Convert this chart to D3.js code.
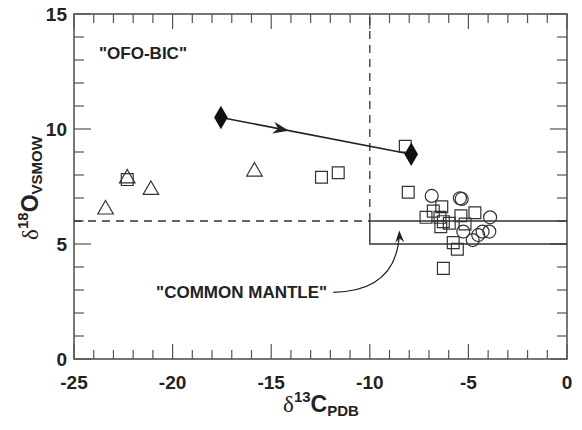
<!DOCTYPE html>
<html>
<head>
<meta charset="utf-8">
<script src="https://cdnjs.cloudflare.com/ajax/libs/d3/7.8.5/d3.min.js"></script>
<style>
  body { margin: 0; background: #fff; }
  text { font-family: "Liberation Sans", Arial, sans-serif; font-weight: bold; fill: #222; }
</style>
</head>
<body>
<div id="chart"></div>
<script>
// values
var xTicks = [-25, -20, -15, -10, -5, 0];
var yTicks = [0, 5, 10, 15];

var triangles = [[-23.4, 6.5], [-22.3, 7.85], [-21.1, 7.35], [-15.85, 8.15]];
var squares = [
    [-22.3, 7.8], [-12.45, 7.9], [-11.6, 8.1], [-8.2, 9.25], [-8.05, 7.25],
    [-6.35, 6.62], [-6.78, 6.43], [-7.15, 6.16], [-6.44, 6.16], [-6.27, 5.97],
    [-6.4, 5.75], [-5.97, 5.9], [-5.38, 6.23], [-4.67, 6.36], [-5.17, 5.87],
    [-5.77, 5.06], [-5.56, 4.77], [-6.27, 3.94]
];
var circles = [
    [-6.86, 7.09], [-5.43, 6.99], [-5.34, 6.96], [-3.9, 6.16], [-5.26, 5.54],
    [-4.78, 5.17], [-4.5, 5.39], [-4.28, 5.54], [-3.94, 5.54]
];
var diamonds = [[-17.55, 10.5], [-7.9, 8.9]];

var mantleBox = { x0: -10, x1: 0, y0: 5, y1: 6 };

var drawChart = (function () {

    var svg = d3.select("#chart").append("svg")
        .attr("width", 582)
        .attr("height", 430);

    var mLeft = 74, mRight = 567, mTop = 14, mBottom = 359;
    var x = d3.scaleLinear().domain([-25, 0]).range([mLeft, mRight]);
    var y = d3.scaleLinear().domain([0, 15]).range([mBottom, mTop]);

    var axisColor = "#555";

    // ticks (every unit, inward on all four sides)
    var g = svg.append("g");
    d3.range(-25, 1).forEach(function (v) {
        var len = (v % 5 === 0) ? 15 : 9;
        g.append("line").attr("x1", x(v)).attr("x2", x(v)).attr("y1", mBottom).attr("y2", mBottom - len)
            .attr("stroke", axisColor).attr("stroke-width", 1.2);
        g.append("line").attr("x1", x(v)).attr("x2", x(v)).attr("y1", mTop).attr("y2", mTop + len)
            .attr("stroke", axisColor).attr("stroke-width", 1.2);
    });
    d3.range(0, 16).forEach(function (v) {
        var len = (v % 5 === 0) ? 17 : 10;
        g.append("line").attr("x1", mLeft).attr("x2", mLeft + len).attr("y1", y(v)).attr("y2", y(v))
            .attr("stroke", axisColor).attr("stroke-width", 1.2);
        g.append("line").attr("x1", mRight).attr("x2", mRight - len).attr("y1", y(v)).attr("y2", y(v))
            .attr("stroke", axisColor).attr("stroke-width", 1.2);
    });

    svg.append("rect")
        .attr("x", mLeft).attr("y", mTop)
        .attr("width", mRight - mLeft).attr("height", mBottom - mTop)
        .attr("fill", "none").attr("stroke", axisColor).attr("stroke-width", 1.6);

    // tick labels
    svg.selectAll(".xl").data(xTicks).enter().append("text")
        .attr("x", function (d) { return x(d); })
        .attr("y", 389)
        .attr("text-anchor", "middle")
        .style("font-size", "19px")
        .text(function (d) { return d; });

    svg.selectAll(".yl").data(yTicks).enter().append("text")
        .attr("x", 67)
        .attr("y", function (d) { return y(d) + 7; })
        .attr("text-anchor", "end")
        .style("font-size", "19px")
        .text(function (d) { return d; });

    // axis titles
    var xt = svg.append("text")
        .attr("x", 321).attr("y", 412)
        .attr("text-anchor", "middle");
    xt.append("tspan").style("font-family", "'Liberation Serif', serif").style("font-weight", "normal").style("font-size", "23px").text("δ");
    xt.append("tspan").attr("dy", -10).style("font-size", "15px").text("13");
    xt.append("tspan").attr("dy", 10).style("font-size", "23px").text("C");
    xt.append("tspan").attr("dy", 4).style("font-size", "15px").text("PDB");

    var yt = svg.append("text")
        .attr("transform", "translate(38,188) rotate(-90)")
        .attr("text-anchor", "middle");
    yt.append("tspan").style("font-family", "'Liberation Serif', serif").style("font-weight", "normal").style("font-size", "23px").text("δ");
    yt.append("tspan").attr("dy", -10).style("font-size", "15px").text("18");
    yt.append("tspan").attr("dy", 10).style("font-size", "23px").text("O");
    yt.append("tspan").attr("dy", 4).style("font-size", "15px").text("VSMOW");

    // field boundaries
    var lineColor = "#333";
    svg.append("line")
        .attr("x1", x(mantleBox.x0)).attr("x2", x(mantleBox.x0))
        .attr("y1", y(mantleBox.y1)).attr("y2", y(15))
        .attr("stroke", lineColor).attr("stroke-width", 1.3).attr("stroke-dasharray", "8,6");
    svg.append("line")
        .attr("x1", x(-25)).attr("x2", x(mantleBox.x0))
        .attr("y1", y(mantleBox.y1)).attr("y2", y(mantleBox.y1))
        .attr("stroke", lineColor).attr("stroke-width", 1.3).attr("stroke-dasharray", "8,6");
    svg.append("path")
        .attr("d", "M" + x(mantleBox.x1) + "," + y(mantleBox.y1) +
            "H" + x(mantleBox.x0) + "V" + y(mantleBox.y0) + "H" + x(mantleBox.x1))
        .attr("fill", "none").attr("stroke", lineColor).attr("stroke-width", 1.4);

    // symbols
    var markStroke = "#333";
    svg.selectAll(".sq").data(squares).enter().append("path")
        .attr("transform", function (d) { return "translate(" + x(d[0]) + "," + y(d[1]) + ")"; })
        .attr("d", d3.symbol().type(d3.symbolSquare).size(140))
        .attr("fill", "none").attr("stroke", markStroke).attr("stroke-width", 1.2);

    svg.selectAll(".ci").data(circles).enter().append("circle")
        .attr("cx", function (d) { return x(d[0]); })
        .attr("cy", function (d) { return y(d[1]); })
        .attr("r", 6.5)
        .attr("fill", "none").attr("stroke", markStroke).attr("stroke-width", 1.2);

    svg.selectAll(".tr").data(triangles).enter().append("path")
        .attr("transform", function (d) { return "translate(" + x(d[0]) + "," + y(d[1]) + ")"; })
        .attr("d", d3.symbol().type(d3.symbolTriangle).size(105))
        .attr("fill", "none").attr("stroke", markStroke).attr("stroke-width", 1.2);

    // trend line between diamonds, arrowhead midway
    var p0 = [x(diamonds[0][0]), y(diamonds[0][1])];
    var p1 = [x(diamonds[1][0]), y(diamonds[1][1])];
    svg.append("line")
        .attr("x1", p0[0]).attr("y1", p0[1]).attr("x2", p1[0]).attr("y2", p1[1])
        .attr("stroke", "#222").attr("stroke-width", 1.6);
    var ang = Math.atan2(p1[1] - p0[1], p1[0] - p0[0]) * 180 / Math.PI;
    var t = (-14.3 - diamonds[0][0]) / (diamonds[1][0] - diamonds[0][0]);
    var ah = [p0[0] + t * (p1[0] - p0[0]), p0[1] + t * (p1[1] - p0[1])];
    svg.append("path")
        .attr("transform", "translate(" + ah[0] + "," + ah[1] + ") rotate(" + ang + ")")
        .attr("d", "M4,0 L-12,-6 L-7,0 L-12,6 Z")
        .attr("fill", "#222");

    svg.selectAll(".di").data(diamonds).enter().append("path")
        .attr("transform", function (d) { return "translate(" + x(d[0]) + "," + y(d[1]) + ")"; })
        .attr("d", d3.symbol().type(d3.symbolDiamond).size(160))
        .attr("fill", "#111");

    // annotations
    svg.append("text")
        .attr("x", x(-21.5)).attr("y", y(13.3) + 6)
        .attr("text-anchor", "middle")
        .style("font-size", "17px")
        .text('"OFO-BIC"');

    svg.append("text")
        .attr("x", x(-16.5)).attr("y", y(2.9) + 6)
        .attr("text-anchor", "middle")
        .style("font-size", "17px")
        .text('"COMMON MANTLE"');

    var c0 = [x(-11.85), y(2.9)], c1 = [x(-8.5), y(5.5)], cc = [x(-8.6), y(2.95)];
    svg.append("path")
        .attr("d", "M" + c0 + " Q" + cc + " " + c1)
        .attr("fill", "none").attr("stroke", "#222").attr("stroke-width", 1.2);
    svg.append("path")
        .attr("transform", "translate(" + c1[0] + "," + c1[1] + ") rotate(-92)")
        .attr("d", "M2,0 L-10,-4.5 L-6,0 L-10,4.5 Z")
        .attr("fill", "#222");
})();
</script>
</body>
</html>
